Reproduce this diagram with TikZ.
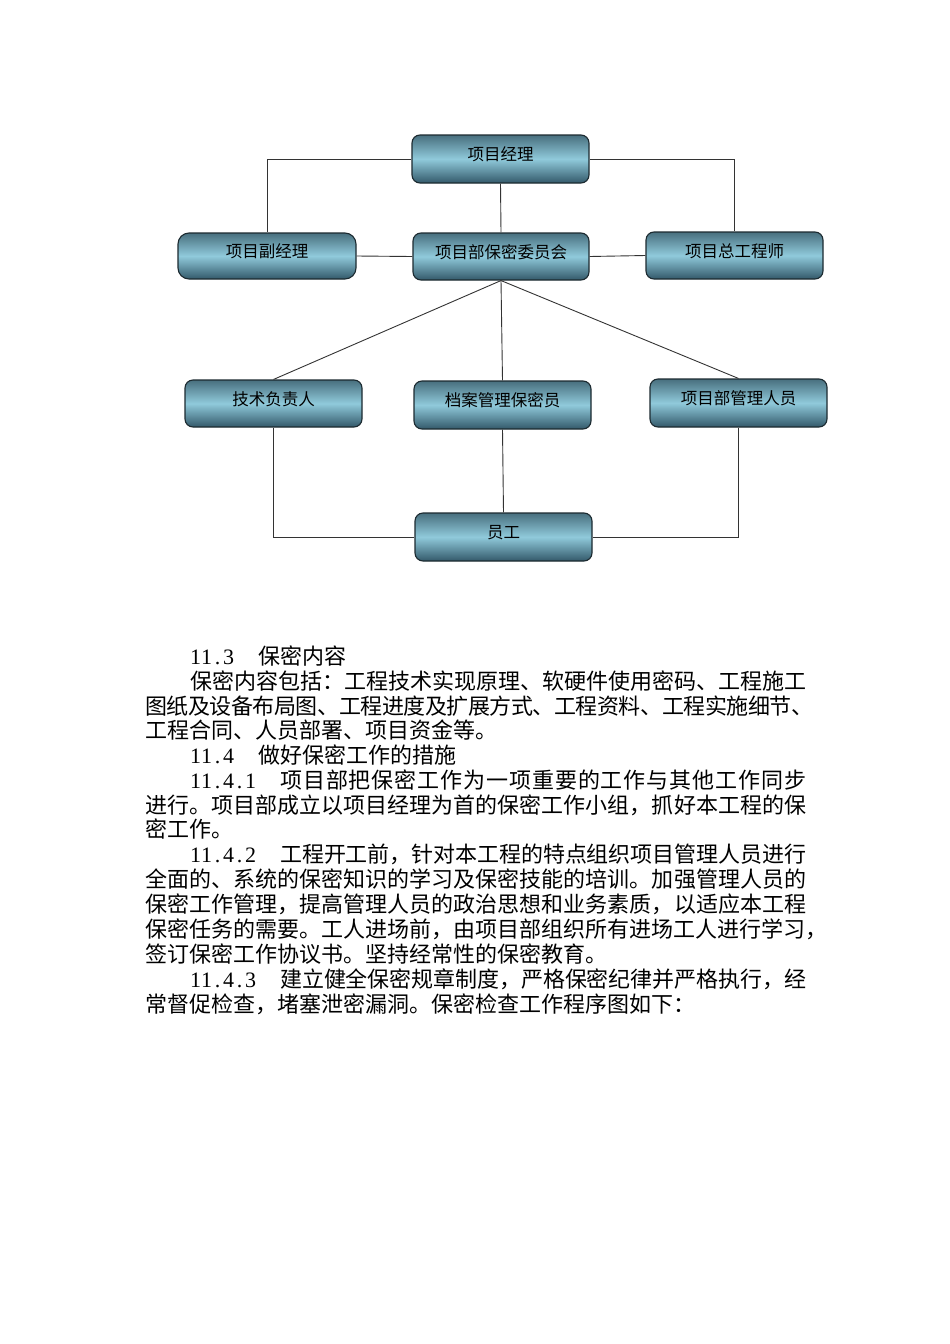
\documentclass[tikz,border=0pt]{standalone}
\usepackage{fontspec}
\setmainfont{Noto Sans CJK SC}
\newfontfamily\numfont{Liberation Serif}
\definecolor{boxdark}{HTML}{486F7E}
\definecolor{boxdarkb}{HTML}{33596A}
\definecolor{boxlight}{HTML}{90CADB}
\definecolor{boxedge}{HTML}{1C2A30}
\makeatletter
\newcommand\spreadto[2]{\hbox to #1pt{\spr@A#2\relax}}
\def\spr@A#1{#1\spr@B}
\def\spr@B#1{\ifx\relax#1\else\hskip 0pt plus 1fil minus 4pt #1\expandafter\spr@B\fi}
\newcommand\numstr[1]{{\numfont\num@A#1\relax}}
\def\num@A#1{\ifx\relax#1\else\makebox[11pt]{#1}\expandafter\num@A\fi}
\makeatother
\tikzset{
  orgbox/.style={draw=boxedge, line width=1.1pt, rounded corners=8pt,
    minimum width=177pt, minimum height=48pt, inner sep=0pt,
    top color=boxdark, bottom color=boxdarkb, middle color=boxlight},
  lbl/.style={font=\fontsize{16.5}{18}\selectfont, inner sep=0pt},
  conn/.style={draw=black!80, line width=0.9pt},
  body/.style={anchor=base west, inner sep=0pt, font=\fontsize{22}{25}\selectfont},
}
\begin{document}
\begin{tikzpicture}[x=1pt,y=-1pt]
\path[use as bounding box] (0,0) rectangle (950,1344);
% boxes
\node[orgbox] (pm) at (500.5,159) {};
\node[orgbox, minimum width=178pt, minimum height=46pt, rounded corners=11pt] (vpm) at (267,256) {};
\node[orgbox, minimum width=176pt, minimum height=47pt] (cmt) at (501,256.5) {};
\node[orgbox, minimum height=47pt] (ce) at (734.5,255.5) {};
\node[orgbox, minimum height=47pt] (tech) at (273.5,403.5) {};
\node[orgbox] (arch) at (502.5,405) {};
\node[orgbox] (mgmt) at (738.5,403) {};
\node[orgbox] (staff) at (503.5,537) {};
% labels
\node[lbl] (pml) at ([yshift=4.5pt]pm.center) {项目经理};
\node[lbl] (vpml) at ([yshift=4.5pt]vpm.center) {项目副经理};
\node[lbl] (cmtl) at ([yshift=4.5pt]cmt.center) {项目部保密委员会};
\node[lbl] (cel) at ([yshift=4.5pt]ce.center) {项目总工程师};
\node[lbl] (techl) at ([yshift=4.5pt]tech.center) {技术负责人};
\node[lbl] (archl) at ([yshift=4.5pt]arch.center) {档案管理保密员};
\node[lbl] (mgmtl) at ([yshift=4.5pt]mgmt.center) {项目部管理人员};
\node[lbl] (staffl) at ([yshift=4.5pt]staff.center) {员工};
% connectors
\draw[conn] (pm.west) -| (vpm.north);
\draw[conn] (pm.east) -| (ce.north);
\draw[conn] (pm.south) -- (cmt.north);
\draw[conn] (vpm.east) -- (cmt.west);
\draw[conn] (cmt.east) -- (ce.west);
\draw[conn] (cmt.south) -- (tech.north);
\draw[conn] (cmt.south) -- (arch.north);
\draw[conn] (cmt.south) -- (mgmt.north);
\draw[conn] (tech.south) |- (staff.west);
\draw[conn] (arch.south) -- (staff.north);
\draw[conn] (mgmt.south) |- (staff.east);
% body text
\node[body] (n1) at (190,664) {\numstr{11.3}};
\node[body] (t1) at (258,664) {保密内容};
\node[body] (t2) at (190,689) {\spreadto{616}{保密内容包括：工程技术实现原理、软硬件使用密码、工程施工}};
\node[body] (t3) at (145,714) {\spreadto{668}{图纸及设备布局图、工程进度及扩展方式、工程资料、工程实施细节、}};
\node[body] (t4) at (145,738) {工程合同、人员部署、项目资金等。};
\node[body] (n5) at (190,763) {\numstr{11.4}};
\node[body] (t5) at (258,763) {做好保密工作的措施};
\node[body] (n6) at (190,788) {\numstr{11.4.1}};
\node[body] (t6) at (280,788) {\spreadto{526}{项目部把保密工作为一项重要的工作与其他工作同步}};
\node[body] (t7) at (145,813) {\spreadto{661}{进行。项目部成立以项目经理为首的保密工作小组，抓好本工程的保}};
\node[body] (t8) at (145,837) {密工作。};
\node[body] (n9) at (190,862) {\numstr{11.4.2}};
\node[body] (t9) at (280,862) {\spreadto{526}{工程开工前，针对本工程的特点组织项目管理人员进行}};
\node[body] (t10) at (145,887) {\spreadto{661}{全面的、系统的保密知识的学习及保密技能的培训。加强管理人员的}};
\node[body] (t11) at (145,912) {\spreadto{661}{保密工作管理，提高管理人员的政治思想和业务素质，以适应本工程}};
\node[body] (t12) at (145,937) {保密任务的需要。工人进场前，由项目部组织所有进场工人进行学习，};
\node[body] (t13) at (145,962) {签订保密工作协议书。坚持经常性的保密教育。};
\node[body] (n14) at (190,987) {\numstr{11.4.3}};
\node[body] (t14) at (280,987) {\spreadto{526}{建立健全保密规章制度，严格保密纪律并严格执行，经}};
\node[body] (t15) at (145,1012) {常督促检查，堵塞泄密漏洞。保密检查工作程序图如下：};
\end{tikzpicture}
\end{document}
